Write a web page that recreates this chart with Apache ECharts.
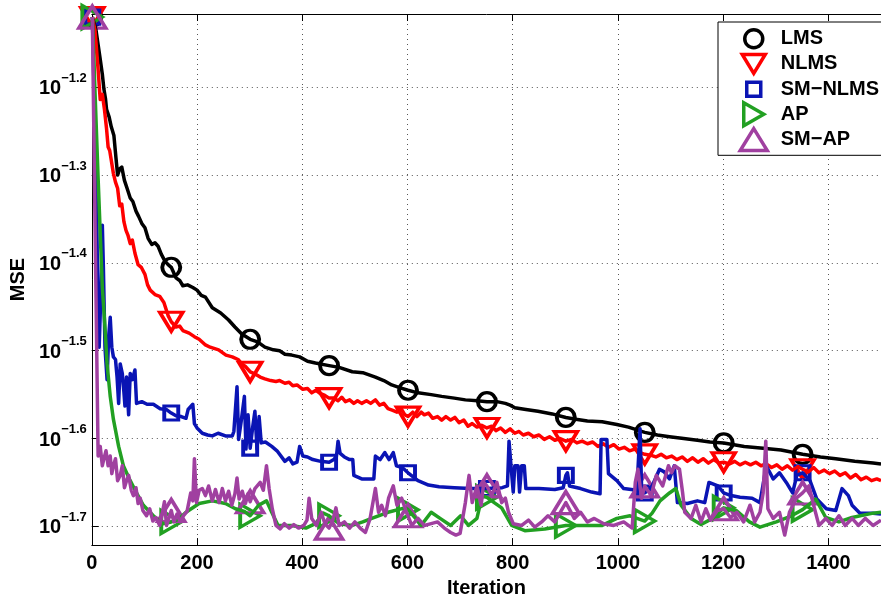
<!DOCTYPE html>
<html>
<head>
<meta charset="utf-8">
<script src="https://cdn.jsdelivr.net/npm/echarts@6/dist/echarts.min.js"></script>
<style>
  html, body { margin: 0; padding: 0; background: #fff; }
  #chart { width: 881px; height: 603px; }
</style>
</head>
<body>
<div id="chart"></div>
<script>
// Learning curves of five adaptive filters: MSE (log10 scale) versus iteration.
// Each curve is a list of [iteration, log10(MSE)] samples.

const xTicks = [0, 200, 400, 600, 800, 1000, 1200, 1400];
const yTicks = [-1.7, -1.6, -1.5, -1.4, -1.3, -1.2];
const markerIters = [1, 151, 301, 451, 601, 751, 901, 1051, 1201, 1351];
const seriesNames = ['LMS', 'NLMS', 'SM\u2212NLMS', 'AP', 'SM\u2212AP'];

const lmsCurve = [
  [1,-1.120],[8,-1.135],[16,-1.168],[20,-1.185],[23,-1.202],[26,-1.213],[28,-1.225],[33,-1.234],
  [37,-1.245],[42,-1.255],[46,-1.281],[49,-1.300],[53,-1.293],[57,-1.291],[62,-1.306],[67,-1.315],
  [73,-1.326],[78,-1.330],[84,-1.341],[89,-1.347],[95,-1.355],[101,-1.360],[107,-1.372],[114,-1.379],
  [120,-1.377],[126,-1.381],[132,-1.390],[139,-1.398],[145,-1.402],[151,-1.405],[160,-1.417],[167,-1.420],
  [173,-1.426],[182,-1.425],[192,-1.428],[200,-1.431],[208,-1.437],[216,-1.439],[229,-1.451],[245,-1.457],
  [260,-1.465],[272,-1.473],[285,-1.481],[301,-1.487],[315,-1.490],[329,-1.496],[345,-1.499],[357,-1.500],
  [367,-1.504],[380,-1.505],[395,-1.507],[410,-1.512],[425,-1.514],[451,-1.517],[470,-1.519],[495,-1.524],
  [515,-1.525],[539,-1.530],[555,-1.534],[570,-1.539],[585,-1.542],[601,-1.545],[620,-1.548],[645,-1.550],
  [665,-1.552],[689,-1.554],[710,-1.556],[733,-1.557],[751,-1.558],[770,-1.558],[786,-1.560],[795,-1.562],
  [804,-1.565],[825,-1.567],[848,-1.569],[875,-1.572],[901,-1.576],[920,-1.578],[942,-1.580],[970,-1.581],
  [998,-1.584],[1020,-1.587],[1051,-1.593],[1075,-1.596],[1098,-1.598],[1125,-1.600],[1151,-1.602],
  [1175,-1.604],[1201,-1.605],[1240,-1.609],[1276,-1.611],[1310,-1.613],[1351,-1.618],[1385,-1.621],
  [1414,-1.623],[1450,-1.626],[1485,-1.628],[1500,-1.629]
];

const nlmsCurve = [
  [1,-1.120],[6,-1.135],[12,-1.180],[16,-1.214],[20,-1.208],[24,-1.225],[28,-1.247],[31,-1.268],
  [34,-1.272],[37,-1.283],[41,-1.298],[45,-1.308],[49,-1.315],[53,-1.335],[57,-1.333],[61,-1.353],
  [65,-1.363],[69,-1.369],[73,-1.378],[77,-1.374],[82,-1.389],[88,-1.402],[94,-1.405],[101,-1.413],
  [106,-1.425],[111,-1.431],[120,-1.436],[129,-1.438],[137,-1.445],[145,-1.460],[151,-1.467],[160,-1.473],
  [167,-1.472],[173,-1.477],[185,-1.480],[195,-1.484],[204,-1.487],[215,-1.493],[225,-1.496],[241,-1.499],
  [255,-1.505],[267,-1.507],[278,-1.510],[285,-1.515],[292,-1.518],[301,-1.524],[312,-1.527],[320,-1.530],
  [329,-1.532],[340,-1.534],[350,-1.535],[357,-1.534],[367,-1.537],[375,-1.536],[382,-1.540],[390,-1.539],
  [401,-1.544],[410,-1.543],[418,-1.548],[426,-1.545],[435,-1.549],[443,-1.551],[451,-1.554],[460,-1.554],
  [468,-1.557],[475,-1.553],[482,-1.558],[490,-1.556],[498,-1.560],[505,-1.557],[513,-1.560],[522,-1.557],
  [530,-1.560],[539,-1.556],[547,-1.562],[555,-1.560],[563,-1.566],[572,-1.568],[580,-1.570],[588,-1.566],
  [595,-1.573],[601,-1.575],[610,-1.570],[618,-1.575],[626,-1.570],[632,-1.573],[640,-1.571],[648,-1.577],
  [657,-1.575],[665,-1.579],[673,-1.575],[682,-1.579],[690,-1.576],[698,-1.582],[707,-1.579],[715,-1.586],
  [723,-1.583],[732,-1.587],[741,-1.585],[751,-1.588],[760,-1.586],[768,-1.591],[777,-1.588],[786,-1.593],
  [795,-1.589],[804,-1.594],[812,-1.592],[820,-1.596],[830,-1.594],[840,-1.598],[850,-1.596],[860,-1.601],
  [870,-1.598],[880,-1.602],[890,-1.600],[901,-1.603],[912,-1.601],[922,-1.605],[932,-1.603],[942,-1.606],
  [952,-1.604],[962,-1.609],[972,-1.606],[982,-1.610],[992,-1.607],[1002,-1.612],[1012,-1.610],[1022,-1.614],
  [1032,-1.612],[1042,-1.616],[1051,-1.618],[1062,-1.619],[1072,-1.621],[1082,-1.618],[1092,-1.622],
  [1102,-1.620],[1112,-1.624],[1122,-1.621],[1132,-1.626],[1142,-1.622],[1152,-1.627],[1162,-1.623],
  [1172,-1.628],[1182,-1.624],[1192,-1.628],[1201,-1.627],[1212,-1.629],[1222,-1.626],[1232,-1.630],
  [1242,-1.627],[1252,-1.630],[1262,-1.627],[1272,-1.631],[1282,-1.629],[1292,-1.633],[1302,-1.630],
  [1312,-1.635],[1322,-1.631],[1332,-1.636],[1342,-1.632],[1351,-1.635],[1362,-1.638],[1372,-1.633],
  [1382,-1.639],[1392,-1.636],[1402,-1.640],[1412,-1.637],[1422,-1.642],[1432,-1.639],[1442,-1.645],
  [1452,-1.641],[1462,-1.647],[1472,-1.644],[1482,-1.648],[1492,-1.646],[1500,-1.648]
];

const smNlmsCurve = [
  [1,-1.120],[9,-1.326],[12,-1.473],[14,-1.496],[17,-1.439],[20,-1.357],[22,-1.405],[25,-1.496],
  [29,-1.533],[32,-1.484],[35,-1.462],[38,-1.496],[41,-1.507],[45,-1.510],[48,-1.530],[51,-1.560],
  [54,-1.515],[58,-1.526],[61,-1.547],[63,-1.563],[66,-1.530],[70,-1.573],[73,-1.526],[77,-1.533],
  [82,-1.522],[85,-1.560],[95,-1.558],[105,-1.561],[117,-1.561],[130,-1.566],[142,-1.567],[151,-1.571],
  [160,-1.574],[170,-1.575],[179,-1.577],[183,-1.567],[192,-1.561],[195,-1.583],[200,-1.588],[210,-1.594],
  [220,-1.596],[229,-1.597],[240,-1.594],[254,-1.597],[267,-1.597],[270,-1.592],[276,-1.541],[279,-1.601],
  [284,-1.580],[290,-1.552],[293,-1.612],[297,-1.573],[301,-1.611],[306,-1.586],[310,-1.569],[314,-1.612],
  [318,-1.575],[322,-1.605],[330,-1.604],[342,-1.609],[352,-1.614],[367,-1.626],[375,-1.622],[382,-1.629],
  [390,-1.627],[395,-1.609],[401,-1.620],[410,-1.621],[420,-1.624],[435,-1.626],[451,-1.627],[460,-1.624],
  [465,-1.620],[468,-1.603],[472,-1.617],[480,-1.621],[490,-1.624],[496,-1.624],[498,-1.642],[513,-1.646],
  [536,-1.646],[539,-1.620],[548,-1.624],[557,-1.616],[565,-1.624],[573,-1.616],[579,-1.631],[590,-1.633],
  [601,-1.639],[620,-1.648],[640,-1.653],[660,-1.655],[689,-1.656],[720,-1.657],[751,-1.657],[780,-1.656],
  [790,-1.654],[793,-1.603],[797,-1.633],[801,-1.661],[804,-1.631],[810,-1.631],[813,-1.661],[817,-1.631],
  [822,-1.631],[825,-1.657],[850,-1.657],[880,-1.658],[896,-1.656],[901,-1.642],[904,-1.639],[908,-1.654],
  [929,-1.657],[950,-1.661],[966,-1.663],[968,-1.601],[979,-1.601],[982,-1.640],[998,-1.648],[1011,-1.657],
  [1036,-1.659],[1039,-1.657],[1042,-1.589],[1045,-1.657],[1051,-1.662],[1065,-1.654],[1079,-1.635],
  [1088,-1.638],[1098,-1.646],[1107,-1.631],[1113,-1.673],[1132,-1.674],[1151,-1.671],[1165,-1.673],
  [1173,-1.650],[1190,-1.654],[1201,-1.662],[1215,-1.665],[1232,-1.667],[1255,-1.668],[1270,-1.673],
  [1282,-1.631],[1295,-1.646],[1307,-1.639],[1320,-1.650],[1332,-1.662],[1340,-1.642],[1351,-1.639],
  [1365,-1.648],[1378,-1.669],[1396,-1.680],[1414,-1.682],[1426,-1.657],[1438,-1.665],[1445,-1.676],
  [1460,-1.685],[1485,-1.685],[1500,-1.686]
];

const apCurve = [
  [1,-1.120],[12,-1.304],[20,-1.428],[25,-1.473],[29,-1.515],[35,-1.552],[41,-1.578],[51,-1.609],
  [60,-1.631],[73,-1.648],[85,-1.662],[98,-1.676],[117,-1.688],[135,-1.697],[151,-1.695],[165,-1.692],
  [179,-1.684],[204,-1.674],[229,-1.671],[254,-1.674],[273,-1.680],[290,-1.683],[301,-1.688],[317,-1.676],
  [332,-1.671],[342,-1.684],[354,-1.699],[380,-1.699],[407,-1.702],[425,-1.697],[440,-1.685],[451,-1.688],
  [470,-1.697],[495,-1.699],[515,-1.695],[532,-1.691],[563,-1.684],[595,-1.679],[601,-1.681],[614,-1.690],
  [626,-1.699],[645,-1.684],[662,-1.691],[682,-1.699],[701,-1.688],[716,-1.699],[732,-1.691],[742,-1.665],
  [751,-1.667],[760,-1.671],[779,-1.679],[798,-1.699],[823,-1.705],[861,-1.703],[901,-1.699],[936,-1.699],
  [970,-1.699],[998,-1.691],[1023,-1.688],[1051,-1.694],[1065,-1.685],[1080,-1.671],[1098,-1.662],
  [1110,-1.657],[1120,-1.676],[1139,-1.691],[1158,-1.698],[1180,-1.691],[1201,-1.679],[1225,-1.682],
  [1250,-1.695],[1270,-1.701],[1301,-1.695],[1330,-1.688],[1351,-1.681],[1376,-1.669],[1395,-1.690],
  [1420,-1.695],[1445,-1.690],[1485,-1.685],[1500,-1.684]
];

const smApCurve = [
  [1,-1.120],[8,-1.439],[12,-1.620],[16,-1.609],[20,-1.631],[23,-1.623],[27,-1.614],[31,-1.631],
  [35,-1.620],[38,-1.640],[41,-1.631],[45,-1.623],[49,-1.648],[54,-1.642],[58,-1.631],[62,-1.656],
  [66,-1.648],[70,-1.642],[75,-1.659],[79,-1.665],[84,-1.656],[88,-1.674],[92,-1.668],[97,-1.682],
  [104,-1.688],[110,-1.680],[116,-1.694],[122,-1.690],[129,-1.699],[133,-1.688],[138,-1.672],[142,-1.699],
  [147,-1.690],[151,-1.682],[156,-1.695],[162,-1.686],[168,-1.695],[174,-1.688],[181,-1.683],[188,-1.662],
  [192,-1.671],[195,-1.623],[199,-1.673],[204,-1.659],[210,-1.657],[216,-1.665],[222,-1.654],[229,-1.671],
  [235,-1.658],[242,-1.673],[248,-1.657],[254,-1.671],[260,-1.660],[266,-1.676],[272,-1.663],[276,-1.645],
  [280,-1.669],[286,-1.660],[292,-1.674],[297,-1.663],[301,-1.672],[310,-1.657],[320,-1.650],[326,-1.659],
  [332,-1.631],[337,-1.657],[343,-1.680],[350,-1.699],[358,-1.703],[366,-1.697],[375,-1.702],[384,-1.698],
  [393,-1.702],[403,-1.699],[409,-1.693],[413,-1.668],[418,-1.691],[427,-1.699],[436,-1.684],[443,-1.697],
  [451,-1.702],[458,-1.693],[464,-1.679],[470,-1.699],[480,-1.695],[490,-1.702],[500,-1.695],[510,-1.702],
  [520,-1.707],[529,-1.691],[539,-1.657],[545,-1.684],[551,-1.676],[558,-1.688],[564,-1.668],[573,-1.654],
  [580,-1.676],[589,-1.668],[598,-1.684],[601,-1.688],[608,-1.699],[620,-1.691],[632,-1.699],[645,-1.697],
  [657,-1.695],[670,-1.702],[682,-1.707],[692,-1.710],[700,-1.708],[710,-1.673],[717,-1.642],[723,-1.673],
  [732,-1.654],[740,-1.676],[745,-1.650],[751,-1.654],[760,-1.665],[770,-1.650],[779,-1.673],[786,-1.668],
  [792,-1.684],[801,-1.697],[817,-1.699],[830,-1.693],[842,-1.701],[855,-1.695],[867,-1.688],[880,-1.695],
  [901,-1.673],[917,-1.691],[929,-1.684],[942,-1.695],[955,-1.691],[973,-1.697],[992,-1.699],[1011,-1.695],
  [1027,-1.702],[1033,-1.650],[1038,-1.635],[1045,-1.668],[1051,-1.654],[1063,-1.665],[1073,-1.642],
  [1085,-1.654],[1096,-1.631],[1102,-1.639],[1108,-1.631],[1117,-1.635],[1123,-1.662],[1127,-1.684],
  [1139,-1.691],[1148,-1.676],[1158,-1.695],[1167,-1.680],[1176,-1.693],[1189,-1.682],[1201,-1.680],
  [1214,-1.690],[1226,-1.684],[1239,-1.695],[1251,-1.676],[1260,-1.695],[1270,-1.684],[1276,-1.662],
  [1281,-1.603],[1285,-1.680],[1295,-1.691],[1307,-1.684],[1317,-1.710],[1326,-1.684],[1339,-1.668],
  [1351,-1.662],[1363,-1.654],[1372,-1.676],[1382,-1.699],[1395,-1.691],[1407,-1.699],[1420,-1.688],
  [1432,-1.699],[1445,-1.691],[1457,-1.699],[1470,-1.691],[1485,-1.699],[1500,-1.693]
];

const curves = [lmsCurve, nlmsCurve, smNlmsCurve, apCurve, smApCurve];
const colors = ['#000000', '#ff0000', '#0a14b4', '#22a022', '#a040a0'];

// Hollow marker outlines, all drawn in a common 30x24 frame so that one
// symbol size keeps the relative marker proportions.
const FRAME = 'M-15,-12 M15,12 ';
const markerPaths = [
  'path://' + FRAME + 'M-9,0 A9,9 0 1,1 9,0 A9,9 0 1,1 -9,0 Z',
  'path://' + FRAME + 'M-11.5,-9.5 L11.5,-9.5 L0,9.5 Z',
  'path://' + FRAME + 'M-7,-7 L7,-7 L7,7 L-7,7 Z',
  'path://' + FRAME + 'M-10,-11.5 L10,0 L-10,11.5 Z',
  'path://' + FRAME + 'M0,-11 L13.5,11 L-13.5,11 Z'
];

const FONT = '"Liberation Sans", Arial, Helvetica, sans-serif';
const gridDots = { color: '#555', width: 1, type: [1, 4] };

function markerPoints(curve) {
  return curve.filter(p => markerIters.indexOf(p[0]) >= 0);
}

function expLabel(v) {
  return '{b|10}{s|\u2212' + Math.abs(v).toFixed(1) + '}';
}

const series = [];
curves.forEach((curve, i) => {
  series.push({
    type: 'line',
    name: seriesNames[i],
    data: curve,
    showSymbol: false,
    symbol: 'none',
    silent: true,
    lineStyle: { color: colors[i], width: 3.5, join: 'round' },
    itemStyle: { color: colors[i] },
    emphasis: { disabled: true }
  });
  series.push({
    type: 'scatter',
    name: seriesNames[i],
    data: markerPoints(curve),
    symbol: markerPaths[i],
    symbolSize: [30, 24],
    silent: true,
    itemStyle: { color: 'rgba(0,0,0,0)', borderColor: colors[i], borderWidth: 3.5, opacity: 1 },
    emphasis: { disabled: true }
  });
});

const chart = echarts.init(document.getElementById('chart'), null, { renderer: 'canvas' });
chart.setOption({
  animation: false,
  backgroundColor: '#ffffff',
  grid: { left: 90, right: -9, top: 14, bottom: 53, containLabel: false },
  xAxis: [
    {
      type: 'value', position: 'bottom', min: 0, max: 1500, interval: 200,
      name: 'Iteration', nameLocation: 'middle', nameGap: 30,
      nameTextStyle: { fontFamily: FONT, fontWeight: 'bold', fontSize: 20, color: '#000' },
      axisLine: { show: true, lineStyle: { color: '#000', width: 1 } },
      axisTick: { show: true, inside: true, length: 7, customValues: xTicks, lineStyle: { color: '#000' } },
      axisLabel: {
        customValues: xTicks, margin: 8, formatter: v => String(v),
        fontFamily: FONT, fontWeight: 'bold', fontSize: 20, color: '#000'
      },
      splitLine: { show: true, lineStyle: gridDots }
    },
    {
      type: 'value', position: 'top', min: 0, max: 1500, interval: 200,
      axisLine: { show: true, onZero: false, lineStyle: { color: '#000', width: 1 } },
      axisTick: { show: true, inside: true, length: 7, customValues: xTicks, lineStyle: { color: '#000' } },
      axisLabel: { show: false },
      splitLine: { show: false }
    }
  ],
  yAxis: {
    type: 'value', min: -1.7214, max: -1.1165,
    name: 'MSE', nameLocation: 'middle', nameRotate: 90, nameGap: 62,
    nameTextStyle: { fontFamily: FONT, fontWeight: 'bold', fontSize: 20, color: '#000' },
    axisLine: { show: true, onZero: false, lineStyle: { color: '#000', width: 1 } },
    axisTick: { show: true, inside: true, length: 7, customValues: yTicks, lineStyle: { color: '#000' } },
    axisLabel: {
      customValues: yTicks,
      margin: 5,
      formatter: expLabel,
      rich: {
        b: { fontFamily: FONT, fontWeight: 'bold', fontSize: 20, color: '#000', lineHeight: 20, padding: [3, 0, 0, 0] },
        s: { fontFamily: FONT, fontWeight: 'bold', fontSize: 13, color: '#000', lineHeight: 12, padding: [0, 0, 18, 0] }
      }
    },
    splitLine: { show: true, lineStyle: gridDots }
  },
  legend: {
    orient: 'vertical',
    left: 718, top: 22,
    padding: [3, 200, 2, 19],
    itemWidth: 44, itemHeight: 24, itemGap: -2.3,
    backgroundColor: '#ffffff', borderColor: '#000', borderWidth: 1, borderRadius: 0,
    selectedMode: false,
    textStyle: { fontFamily: FONT, fontWeight: 'bold', fontSize: 20, color: '#000', lineHeight: 20 },
    data: seriesNames.map((n, i) => ({
      name: n,
      icon: markerPaths[i],
      itemStyle: { color: 'rgba(0,0,0,0)', borderColor: colors[i], borderWidth: 3.5 }
    }))
  },
  series: series
});
</script>
</body>
</html>
